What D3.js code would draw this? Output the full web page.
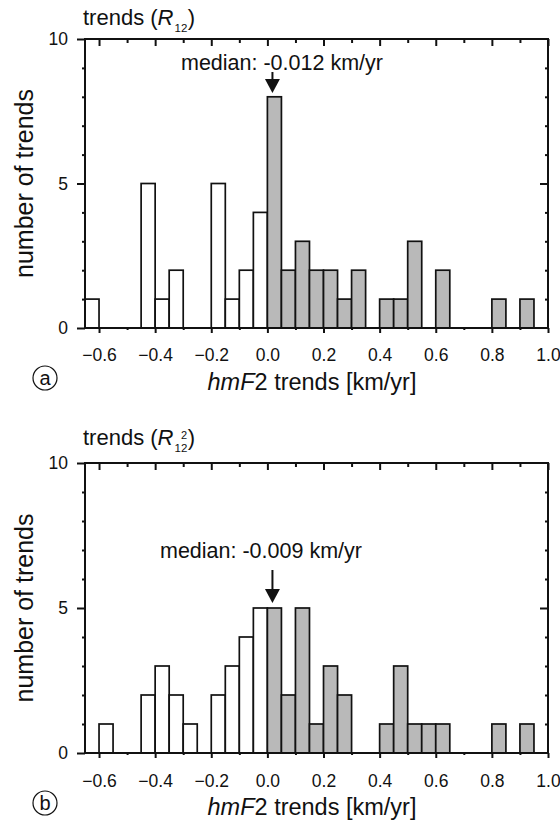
<!DOCTYPE html>
<html><head><meta charset="utf-8">
<script src="https://cdn.jsdelivr.net/npm/d3@7"></script>
<style>
body{margin:0;background:#fff;}
text{font-family:"Liberation Sans",Arial,Helvetica,sans-serif;fill:#111;}
</style></head>
<body>
<svg id="chart" width="560" height="830"></svg>
<script>
// bin lower edges (bin width 0.05 km/yr)
const binEdges = [-0.65,-0.60,-0.55,-0.50,-0.45,-0.40,-0.35,-0.30,-0.25,-0.20,-0.15,-0.10,-0.05,
  0.00,0.05,0.10,0.15,0.20,0.25,0.30,0.35,0.40,0.45,0.50,0.55,0.60,0.65,0.70,0.75,0.80,0.85,0.90,0.95];
const binWidth = 0.05;
const countsA = [1,0,0,0,5,1,2,0,0,5,1,2,4, 8,2,3,2,2,1,2,0,1,1,3,0,2,0,0,0,1,0,1,0];
const countsB = [0,1,0,0,2,3,2,1,0,2,3,4,5, 5,2,5,1,3,2,0,0,1,3,1,1,1,0,0,0,1,0,1,0];
const xTickLabels = [-0.6,-0.4,-0.2,0.0,0.2,0.4,0.6,0.8,1.0];
const xMinorTicks = [-0.5,-0.3,-0.1,0.1,0.3,0.5,0.7,0.9];
const yMajorTicks = [0,5,10];
const yMinorTicks = [1,2,3,4,6,7,8,9];
const medianText = ["median: -0.012 km/yr","median: -0.009 km/yr"];
const medianArrowAt = [0.018, 0.018];
const panelLetters = ["a","b"];

const svg = d3.select("#chart");
const left = 85, right = 548;
const x = d3.scaleLinear().domain([-0.65,1.0]).range([left,right]);

const panels = [
  {counts:countsA, top:39, bottom:328, median:medianText[0], arrow:medianArrowAt[0], letter:panelLetters[0], sup:false,
   titleY:25, medTextX:181, medTextY:70, arrowTop:72, arrowTip:93, labOff:33},
  {counts:countsB, top:463, bottom:753, median:medianText[1], arrow:medianArrowAt[1], letter:panelLetters[1], sup:true,
   titleY:445, medTextX:160, medTextY:558, arrowTop:570, arrowTip:603, labOff:34}
];

panels.forEach(p => {
  const g = svg.append("g");
  const y = d3.scaleLinear().domain([0,10]).range([p.bottom,p.top]);

  // bars
  const bins = binEdges.map((e,i)=>({x0:e, x1:e+binWidth, n:p.counts[i]})).filter(d=>d.n>0);
  g.selectAll("rect.bar").data(bins).enter().append("rect")
    .attr("x", d=>x(d.x0)).attr("width", d=>x(d.x1)-x(d.x0))
    .attr("y", d=>y(d.n)).attr("height", d=>y(0)-y(d.n))
    .attr("fill", d=> d.x0 >= 0 ? "#b9b9b9" : "#ffffff")
    .attr("stroke","#111").attr("stroke-width",1.7);

  const bottomAx = d3.axisBottom(x).tickValues(xTickLabels).tickSize(5).tickFormat(d3.format(".1f"));
  const gb = g.append("g").attr("transform",`translate(0,${p.bottom})`).call(bottomAx);
  gb.select(".domain").remove();
  gb.selectAll("text").attr("font-size",17.5).attr("dy",0).attr("y",p.labOff).attr("fill","#111");
  gb.selectAll("line").attr("stroke-width",2).attr("stroke","#111");
  const gbm = g.append("g").attr("transform",`translate(0,${p.bottom})`)
    .call(d3.axisBottom(x).tickValues(xMinorTicks).tickSize(2).tickFormat(""));
  gbm.select(".domain").remove(); gbm.selectAll("line").attr("stroke-width",2).attr("stroke","#111");

  const gt = g.append("g").attr("transform",`translate(0,${p.top})`)
    .call(d3.axisBottom(x).tickValues(xTickLabels).tickSize(7).tickFormat(""));
  gt.select(".domain").remove(); gt.selectAll("line").attr("stroke-width",2).attr("stroke","#111");
  const gtm = g.append("g").attr("transform",`translate(0,${p.top})`)
    .call(d3.axisBottom(x).tickValues(xMinorTicks).tickSize(4).tickFormat(""));
  gtm.select(".domain").remove(); gtm.selectAll("line").attr("stroke-width",2).attr("stroke","#111");

  const gl = g.append("g").attr("transform",`translate(${left},0)`)
    .call(d3.axisLeft(y).tickValues(yMajorTicks).tickSize(8).tickFormat(d3.format("d")));
  gl.select(".domain").remove(); gl.selectAll("line").attr("stroke-width",2).attr("stroke","#111");
  gl.selectAll("text").attr("font-size",17.5).attr("x",-17).attr("fill","#111");
  const glm = g.append("g").attr("transform",`translate(${left},0)`)
    .call(d3.axisLeft(y).tickValues(yMinorTicks).tickSize(3).tickFormat(""));
  glm.select(".domain").remove(); glm.selectAll("line").attr("stroke-width",2).attr("stroke","#111");

  const gr = g.append("g").attr("transform",`translate(${right},0)`)
    .call(d3.axisLeft(y).tickValues([5]).tickSize(8).tickFormat(""));
  gr.select(".domain").remove(); gr.selectAll("line").attr("stroke-width",2).attr("stroke","#111");
  const grm = g.append("g").attr("transform",`translate(${right},0)`)
    .call(d3.axisLeft(y).tickValues(yMinorTicks).tickSize(3).tickFormat(""));
  grm.select(".domain").remove(); grm.selectAll("line").attr("stroke-width",2).attr("stroke","#111");

  // frame
  g.append("rect").attr("x",left).attr("y",p.top).attr("width",right-left).attr("height",p.bottom-p.top)
    .attr("fill","none").attr("stroke","#111").attr("stroke-width",2);

  // panel title: "trends (R_12)" / "trends (R^2_12)"
  const t = g.append("text").attr("x",83).attr("y",p.titleY).attr("font-size",22);
  t.append("tspan").text("trends (");
  t.append("tspan").attr("font-style","italic").text("R");
  const tw = t.node().getComputedTextLength();
  const sx = 83 + tw + 1;
  const sub = g.append("text").attr("x",sx).attr("y",p.titleY+7).attr("font-size",11.5).text("12");
  if (p.sup) {
    g.append("text").attr("x",sx+6.5).attr("y",p.titleY-6).attr("font-size",11).text("2");
  }
  const subW = sub.node().getComputedTextLength();
  g.append("text").attr("x",sx+subW+0.5).attr("y",p.titleY).attr("font-size",22).text(")");

  // y label
  g.append("text").attr("transform",`translate(33,${(p.top+p.bottom)/2}) rotate(-90)`)
    .attr("text-anchor","middle").attr("font-size",25).text("number of trends");

  // x label
  const xl = g.append("text").attr("x",312).attr("y",p.bottom+62)
    .attr("text-anchor","middle").attr("font-size",23.5);
  xl.append("tspan").attr("font-style","italic").text("hmF");
  xl.append("tspan").text("2 trends [km/yr]");

  // panel letter
  g.append("circle").attr("cx",45).attr("cy",p.bottom+50).attr("r",12)
    .attr("fill","none").attr("stroke","#111").attr("stroke-width",1.2);
  g.append("text").attr("x",45).attr("y",p.bottom+57).attr("text-anchor","middle")
    .attr("font-size",20).text(p.letter);

  // median
  g.append("text").attr("x",p.medTextX).attr("y",p.medTextY).attr("font-size",21.5).text(p.median);
  const ax = x(p.arrow);
  g.append("line").attr("x1",ax).attr("x2",ax).attr("y1",p.arrowTop).attr("y2",p.arrowTip-12)
    .attr("stroke","#111").attr("stroke-width",2);
  g.append("path").attr("d",`M${ax-7.5},${p.arrowTip-14} L${ax+7.5},${p.arrowTip-14} L${ax},${p.arrowTip} Z`)
    .attr("fill","#111");
});
</script>
</body></html>
